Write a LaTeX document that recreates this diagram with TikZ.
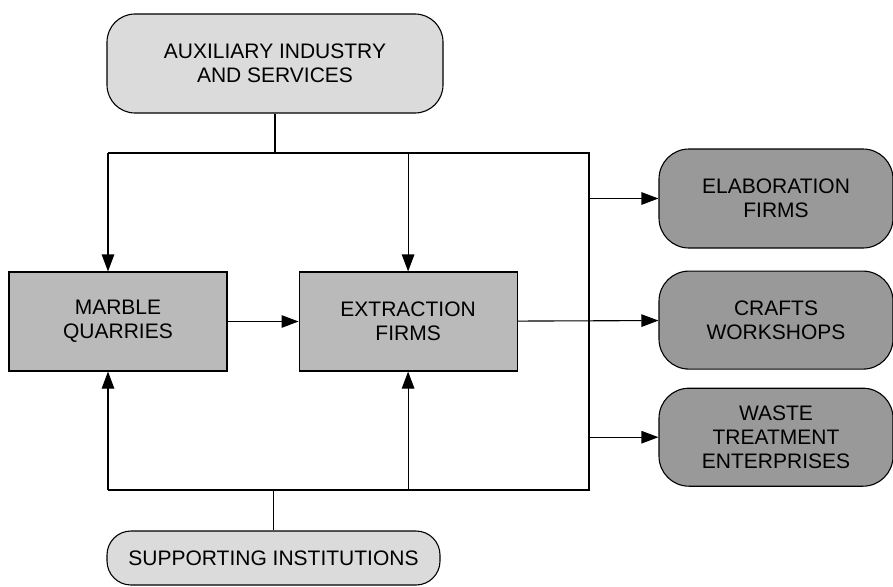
\documentclass[tikz,border=0pt]{standalone}
\usepackage{fontspec}
\setmainfont{Liberation Sans}
\usetikzlibrary{positioning,arrows.meta}

\begin{document}
\begin{tikzpicture}[x=1pt,y=-1pt,>={Triangle[length=17pt,width=12.5pt]},line width=1.1pt,
		font=\fontsize{21}{24}\selectfont,
		base box/.style={draw,align=center,inner sep=0pt},
		side box/.style={base box,rounded corners=28pt,fill=black!14},
		core box/.style={base box,fill=black!27,minimum width=218pt,minimum height=99pt},
		out box/.style={base box,rounded corners=30pt,fill=black!40,minimum width=234pt,minimum height=98pt}]
		\useasboundingbox (0,0) rectangle (893,586);
		% chain
		\node[core box] (marble) at (118,321.5) {MARBLE\\QUARRIES};
		\node[core box] (extraction) [right=71pt of marble] {EXTRACTION\\FIRMS};
		% support
		\node[side box, minimum width=336pt, minimum height=99pt] (aux) at (275,63.5) {AUXILIARY INDUSTRY\\AND SERVICES};
		\node[side box, minimum width=333pt, minimum height=54pt, rounded corners=24pt] (support) at (273.5,558) {SUPPORTING INSTITUTIONS};
		% outputs
		\node[out box, minimum height=99pt] (elab) at (776,198.5) {ELABORATION\\FIRMS};
		\node[out box] (crafts) [below=22pt of elab] {CRAFTS\\WORKSHOPS};
		\node[out box] (waste) [below=18pt of crafts] {WASTE\\TREATMENT\\ENTERPRISES};
		
		\coordinate (tl) at (108,153);
		\coordinate (tr) at (589,153);
		\coordinate (bl) at (108,490);
		\coordinate (br) at (589,490);
		
		\draw (tl) -- (tr) -- (br) -- (bl);
		\draw (aux) -- (aux |- tl);
		\draw (support) -- (support |- bl);
		\draw[->] (tl) -- (tl |- marble.north);
		\draw[->] (extraction.north |- tl) -- (extraction.north);
		\draw[->] (bl) -- (bl |- marble.south);
		\draw[->] (extraction.south |- bl) -- (extraction.south);
		\draw[->] (marble) -- (extraction);
		\draw[->] (extraction) -- (crafts);
		\draw[->] (elab -| tr) -- (elab);
		\draw[->] (waste -| tr) -- (waste);
		
		\end{tikzpicture}
\end{document}
